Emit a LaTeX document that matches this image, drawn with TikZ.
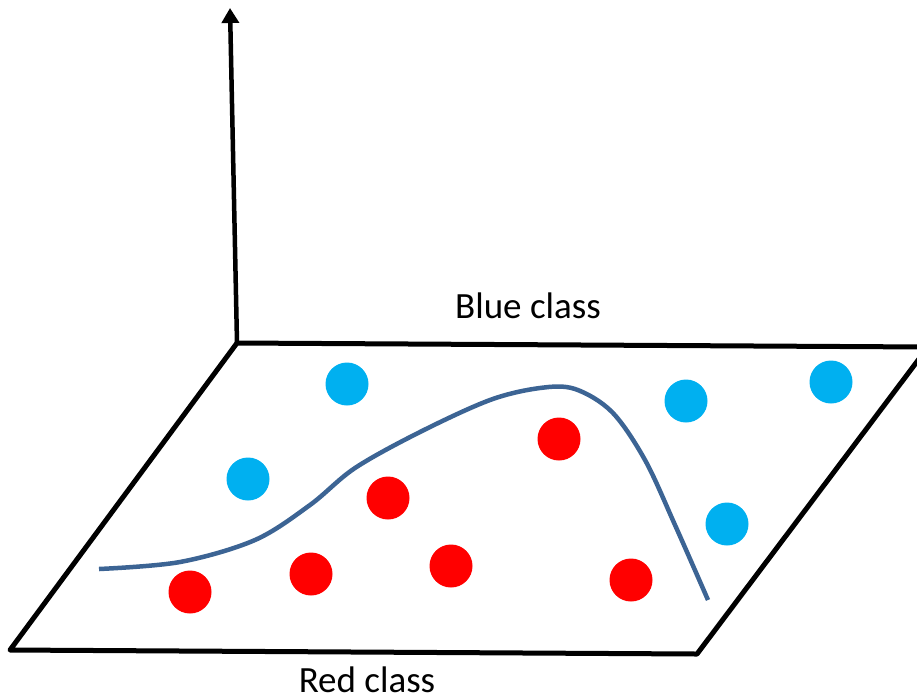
\documentclass[tikz,border=0pt]{standalone}
\usepackage{fontspec}
\setmainfont{Carlito}
\usetikzlibrary{arrows.meta}
\definecolor{dotblue}{HTML}{00B0F0}
\definecolor{dotred}{HTML}{FF0000}
\definecolor{curveblue}{HTML}{3C6494}
\begin{document}
\begin{tikzpicture}[x=1pt,y=-1pt,
  edge/.style={line width=5pt, line join=round, line cap=round},
  bdot/.style={circle, fill=dotblue, inner sep=0pt, minimum size=43pt},
  rdot/.style={circle, fill=dotred, inner sep=0pt, minimum size=43pt},
  lbl/.style={font=\fontsize{37}{42}\selectfont, inner sep=0pt, anchor=base}]
\path[use as bounding box] (0,0) rectangle (917,697);
\begin{scope}
\clip (0,0) rectangle (917,697);
\coordinate (tl) at (237,343);
\coordinate (tr) at (928,347);
\coordinate (br) at (697,654);
\coordinate (bl) at (10,650);
\coordinate (top) at (230,8);
\draw[edge] (tl) -- (tr) -- (br) -- (bl) -- cycle;
\draw[line width=4.5pt, -{Triangle[width=17pt,length=15pt]}] (tl) -- (top);
\end{scope}
\node[lbl] (blue) at (528,318) {Blue class};
\node[lbl] (red) at (367,692) {Red class};
\draw[curveblue, line width=4.5pt] plot[smooth, tension=0.55] coordinates
  {(99,569) (180,562) (255,540) (310,505) (355,468) (420,432) (490,400) (540,388) (575,389) (612,412) (645,460) (675,525) (708,600)};
\node[bdot] (b1) at (347,384) {};
\node[bdot] (b2) at (686,401) {};
\node[bdot] (b3) at (831,382) {};
\node[bdot] (b4) at (248,479) {};
\node[bdot] (b5) at (727,524) {};
\node[rdot] (r1) at (559,439) {};
\node[rdot] (r2) at (388,498) {};
\node[rdot] (r3) at (190,592) {};
\node[rdot] (r4) at (311,574) {};
\node[rdot] (r5) at (451,566) {};
\node[rdot] (r6) at (631,580) {};
\end{tikzpicture}
\end{document}
